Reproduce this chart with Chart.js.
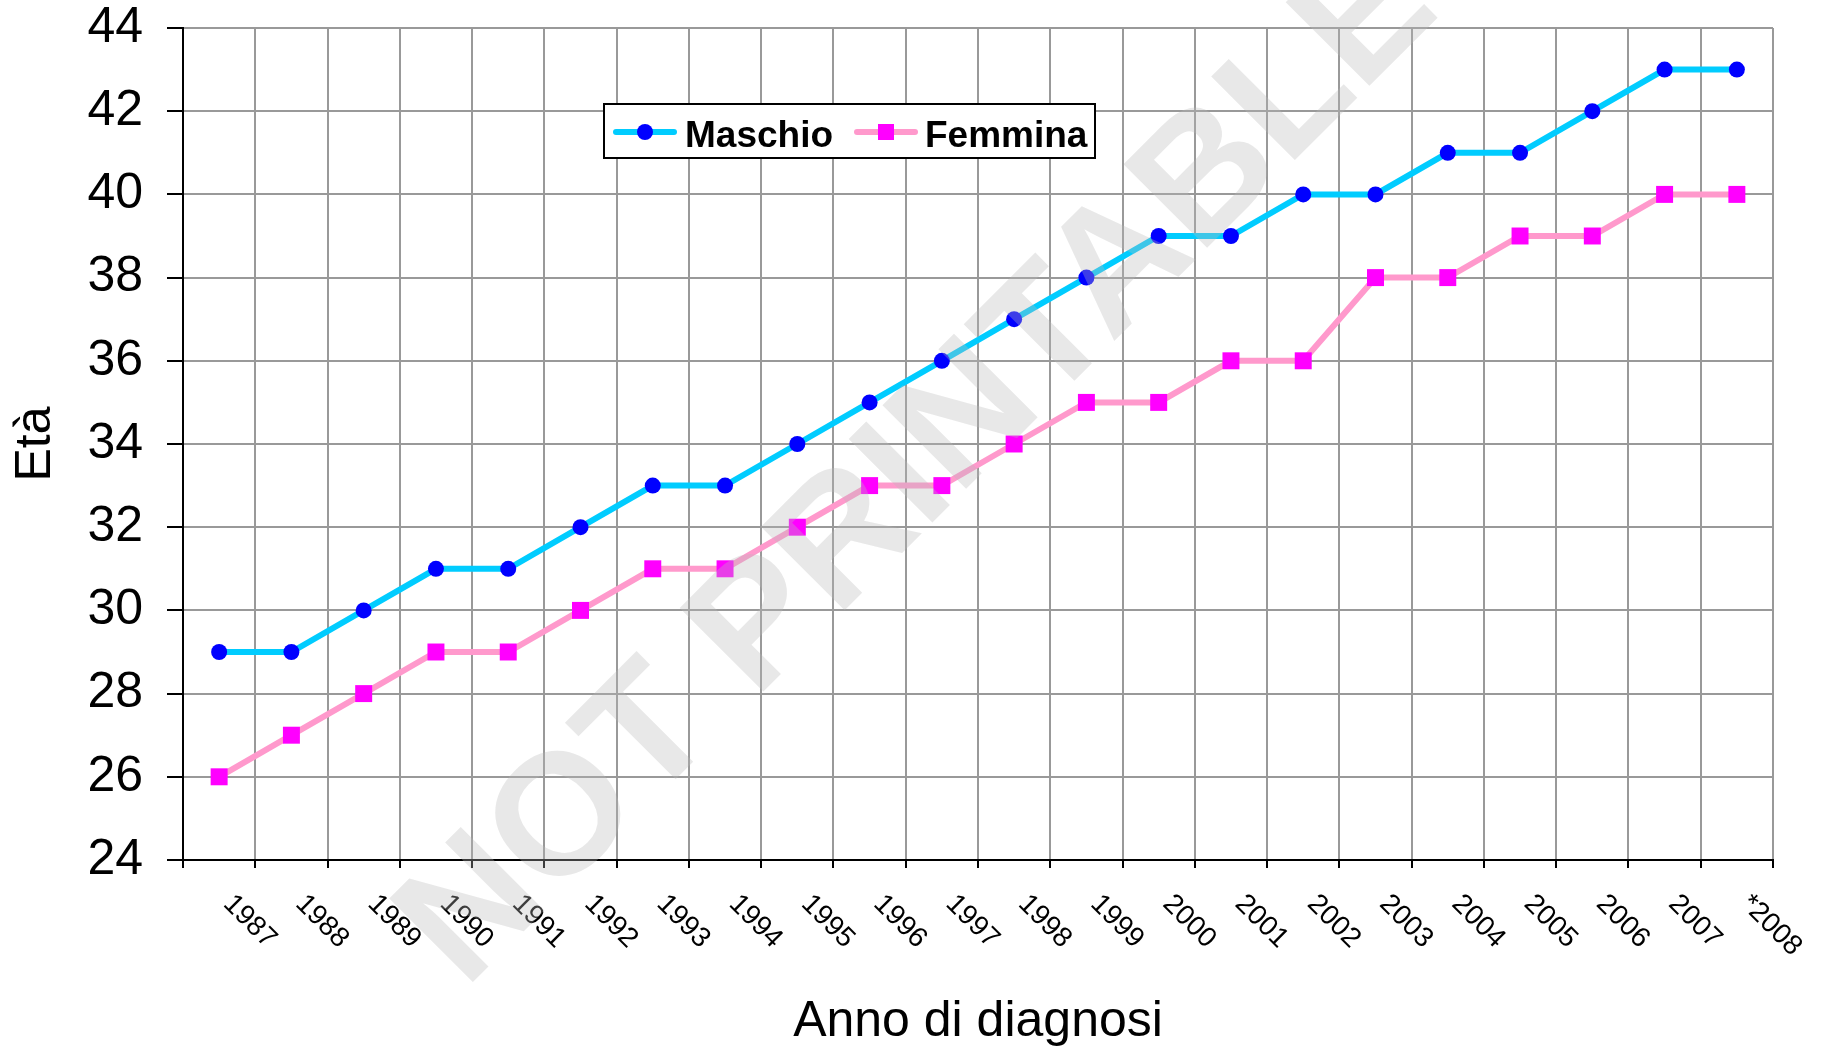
<!DOCTYPE html>
<html>
<head>
<meta charset="utf-8">
<title>Età alla diagnosi</title>
<script src="https://cdn.jsdelivr.net/npm/chart.js@4.4.0/dist/chart.umd.min.js"></script>
<style>
    html, body { margin: 0; padding: 0; background: #ffffff; }
    #wrap { width: 1823px; height: 1050px; position: relative; }
</style>
</head>
<body>
<div id="wrap"><canvas id="canvas-eta"></canvas></div>
<script>
// Data
const years = ['1987', '1988', '1989', '1990', '1991', '1992', '1993', '1994', '1995', '1996', '1997',
               '1998', '1999', '2000', '2001', '2002', '2003', '2004', '2005', '2006', '2007', '*2008'];
const maschio = [29, 29, 30, 31, 31, 32, 33, 33, 34, 35, 36, 37, 38, 39, 39, 40, 40, 41, 41, 42, 43, 43];
const femmina = [26, 27, 28, 29, 29, 30, 31, 31, 32, 33, 33, 34, 35, 35, 36, 36, 38, 38, 39, 39, 40, 40];
const yMin = 24;
const yMax = 44;
const yStep = 2;

const FONT = '"Liberation Sans", Arial, Helvetica, sans-serif';

// x labels are drawn slanted down to the right, starting at the category centre
const slantedLabels = {
    id: 'slantedLabels',
    afterDraw(chart) {
        const ctx = chart.ctx;
        const xs = chart.scales.x;
        ctx.save();
        ctx.font = '28px ' + FONT;
        ctx.fillStyle = '#000000';
        ctx.textAlign = 'left';
        ctx.textBaseline = 'alphabetic';
        xs.ticks.forEach((t, i) => {
            const x = xs.getPixelForTick(i) + 3;
            const y = chart.chartArea.bottom + 45;
            ctx.save();
            ctx.translate(x, y);
            ctx.rotate(Math.PI / 4);
            ctx.fillText(years[i], 0, 0);
            ctx.restore();
        });
        ctx.restore();
    }
};

// boxed legend sitting inside the plot
const boxLegend = {
    id: 'boxLegend',
    afterDatasetsDraw(chart) {
        const ctx = chart.ctx;
        const area = chart.chartArea;
        const left = area.left + 421;
        const top = area.top + 76;
        ctx.save();
        ctx.fillStyle = '#ffffff';
        ctx.fillRect(left, top, 491, 54);
        ctx.strokeStyle = '#000000';
        ctx.lineWidth = 2;
        ctx.strokeRect(left, top, 491, 54);

        const cy = top + 28;
        const items = [
            { ds: chart.data.datasets[0], x: left + 12, textX: left + 81 },
            { ds: chart.data.datasets[1], x: left + 253, textX: left + 321 }
        ];
        items.forEach(item => {
            ctx.strokeStyle = item.ds.borderColor;
            ctx.lineWidth = 6;
            ctx.lineCap = 'round';
            ctx.beginPath();
            ctx.moveTo(item.x, cy);
            ctx.lineTo(item.x + 58, cy);
            ctx.stroke();
            ctx.fillStyle = item.ds.pointBackgroundColor;
            const mx = item.x + 29;
            if (item.ds.pointStyle === 'rect') {
                ctx.fillRect(mx - 8, cy - 8, 16, 16);
            } else {
                ctx.beginPath();
                ctx.arc(mx, cy, 8, 0, Math.PI * 2);
                ctx.fill();
            }
            ctx.fillStyle = '#000000';
            ctx.font = 'bold 37px ' + FONT;
            ctx.textAlign = 'left';
            ctx.textBaseline = 'alphabetic';
            ctx.fillText(item.ds.label, item.textX, top + 43);
        });
        ctx.restore();
    }
};

// grey diagonal watermark over everything
const watermark = {
    id: 'watermark',
    afterDraw(chart) {
        const ctx = chart.ctx;
        ctx.save();
        ctx.translate(920, 468);
        ctx.rotate(-Math.PI / 4);
        ctx.font = 'bold 172px ' + FONT;
        ctx.fillStyle = 'rgba(184, 184, 184, 0.33)';
        ctx.textAlign = 'center';
        ctx.textBaseline = 'middle';
        ctx.fillText('NOT PRINTABLE', 0, 0);
        ctx.restore();
    }
};

const canvas = document.getElementById('canvas-eta');
const chart = new Chart(canvas.getContext('2d'), {
    type: 'line',
    data: {
        labels: years,
        datasets: [{
            label: 'Maschio',
            data: maschio,
            borderColor: '#00ccff',
            borderWidth: 6,
            tension: 0,
            pointStyle: 'circle',
            pointRadius: 8,
            pointBorderWidth: 0,
            pointBackgroundColor: '#0000ff',
            pointBorderColor: '#0000ff',
            fill: false
        }, {
            label: 'Femmina',
            data: femmina,
            borderColor: '#ff99cc',
            borderWidth: 6,
            tension: 0,
            pointStyle: 'rect',
            pointRadius: 12,
            pointBorderWidth: 0,
            pointBackgroundColor: '#ff00ff',
            pointBorderColor: '#ff00ff',
            fill: false
        }]
    },
    options: {
        responsive: true,
        maintainAspectRatio: false,
        animation: false,
        events: [],
        layout: {
            padding: { top: 28, right: 50, left: 0, bottom: 0 }
        },
        plugins: {
            legend: { display: false },
            tooltip: { enabled: false }
        },
        scales: {
            x: {
                type: 'category',
                offset: true,
                grid: {
                    offset: true,
                    color: '#999999',
                    lineWidth: 2,
                    drawTicks: true,
                    tickLength: 8,
                    tickColor: '#000000',
                    tickWidth: 2
                },
                border: { display: true, color: '#000000', width: 2 },
                ticks: { display: false },
                title: {
                    display: true,
                    text: 'Anno di diagnosi',
                    color: '#000000',
                    font: { family: FONT, size: 50, lineHeight: 1 },
                    padding: { top: 0, bottom: 3 }
                },
                afterFit(scale) { scale.height = 190; }
            },
            y: {
                type: 'linear',
                min: yMin,
                max: yMax,
                grid: {
                    color: '#999999',
                    lineWidth: 2,
                    drawTicks: true,
                    tickLength: 16,
                    tickColor: '#000000',
                    tickWidth: 2
                },
                border: { display: true, color: '#000000', width: 2 },
                ticks: {
                    stepSize: yStep,
                    color: '#000000',
                    padding: 24,
                    font: { family: FONT, size: 50, lineHeight: 1 }
                },
                title: {
                    display: true,
                    text: 'Età',
                    color: '#000000',
                    font: { family: FONT, size: 50, lineHeight: 1.2 },
                    padding: { top: 6, bottom: 0 }
                },
                afterFit(scale) {
                    scale.width = 183;
                    scale.paddingTop = 0;
                    scale.paddingBottom = 0;
                }
            }
        }
    },
    plugins: [boxLegend, slantedLabels, watermark]
});
</script>
</body>
</html>
